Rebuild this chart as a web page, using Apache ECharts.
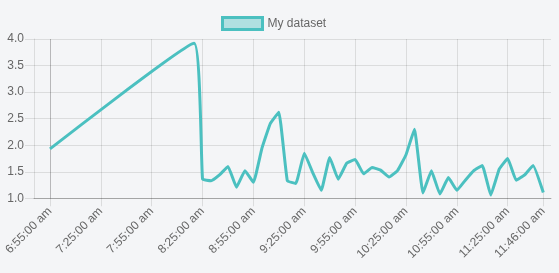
<!DOCTYPE html>
<html>
<head>
<meta charset="utf-8">
<script src="https://cdn.jsdelivr.net/npm/echarts@6/dist/echarts.min.js"></script>
<style>
  html, body { margin: 0; padding: 0; background: #f4f5f7; }
  #chart { width: 559px; height: 273px; }
</style>
</head>
<body>
<div id="chart"></div>
<script>
// ---- data ----
const seriesName = 'My dataset';
const times = ['06:55','08:20','08:25','08:30','08:35','08:40','08:45','08:50','08:55','09:00',
  '09:05','09:10','09:15','09:20','09:25','09:30','09:35','09:40','09:45','09:50',
  '09:55','10:00','10:05','10:10','10:15','10:20','10:25','10:30','10:35','10:40',
  '10:45','10:50','10:55','11:00','11:05','11:10','11:15','11:20','11:25','11:30',
  '11:35','11:40','11:46'];
const values = [1.93,3.92,1.36,1.33,1.44,1.60,1.21,1.52,1.30,1.94,
  2.41,2.62,1.33,1.28,1.85,1.48,1.15,1.77,1.36,1.66,
  1.73,1.46,1.58,1.53,1.40,1.52,1.82,2.30,1.10,1.52,
  1.08,1.39,1.15,1.34,1.52,1.62,1.06,1.55,1.75,1.34,
  1.44,1.62,1.11];
const tickTimes = ['06:55','07:25','07:55','08:25','08:55','09:25','09:55','10:25','10:55','11:25','11:46'];
const xRange = ['06:45:34','11:50:32'];
const yTicks = [1.0, 1.5, 2.0, 2.5, 3.0, 3.5, 4.0];

// ---- helpers ----
function toMin(s) {
  const p = s.split(':').map(Number);
  return p[0] * 60 + p[1] + (p[2] || 0) / 60;
}
function fmtTime(m) {
  const h = Math.floor(m / 60);
  const mm = Math.round(m - h * 60);
  const h12 = ((h + 11) % 12) + 1;
  return h12 + ':' + String(mm).padStart(2, '0') + ':00 ' + (h < 12 ? 'am' : 'pm');
}
const data = times.map((t, i) => [toMin(t), values[i]]);
const tickVals = tickTimes.map(toMin);

const gridColor = 'rgba(0,0,0,0.1)';
const zeroColor = 'rgba(0,0,0,0.25)';
const splitColors = tickVals.map((v, i) => i === 0 ? zeroColor : gridColor);
const font = "'Liberation Sans', Arial, sans-serif";

const chart = echarts.init(document.getElementById('chart'), null, { renderer: 'canvas' });
chart.setOption({
  backgroundColor: '#f4f5f7',
  animation: false,
  legend: {
    left: 221, top: 16, padding: 0,
    itemWidth: 40, itemHeight: 12, itemGap: 10,
    icon: 'rect',
    textStyle: { color: '#666', fontSize: 12, fontFamily: font },
    data: [{ name: seriesName, icon: 'rect',
      itemStyle: { color: 'rgba(75,192,192,0.4)', borderColor: 'rgb(75,192,192)', borderWidth: 3 } }]
  },
  grid: { left: 34, right: 8, top: 39, bottom: 74.7, containLabel: false },
  xAxis: {
    type: 'value',
    min: toMin(xRange[0]), max: toMin(xRange[1]),
    axisLine: { show: true, onZero: false, lineStyle: { color: zeroColor, width: 1 } },
    axisTick: { show: true, customValues: tickVals, length: 8, lineStyle: { color: gridColor } },
    axisLabel: { customValues: tickVals, rotate: 45, margin: 11, color: '#666', fontSize: 12,
      fontFamily: font, formatter: v => fmtTime(v), showMinLabel: true, showMaxLabel: true, hideOverlap: false },
    splitLine: { show: true, lineStyle: { color: splitColors, width: 1 } }
  },
  yAxis: {
    type: 'value', min: yTicks[0], max: yTicks[yTicks.length - 1], interval: 0.5,
    axisLine: { show: true, lineStyle: { color: gridColor } },
    axisTick: { show: true, length: 9, lineStyle: { color: gridColor } },
    axisLabel: { margin: 10, color: '#666', fontSize: 12, fontFamily: font, formatter: v => v.toFixed(1) },
    splitLine: { show: true, lineStyle: { color: gridColor } }
  },
  series: [{
    name: seriesName, type: 'line', data: data,
    showSymbol: false, symbol: 'none',
    smooth: 0.1,
    lineStyle: { color: 'rgb(75,192,192)', width: 3 },
    itemStyle: { color: 'rgb(75,192,192)' }
  }]
});
</script>
</body>
</html>
